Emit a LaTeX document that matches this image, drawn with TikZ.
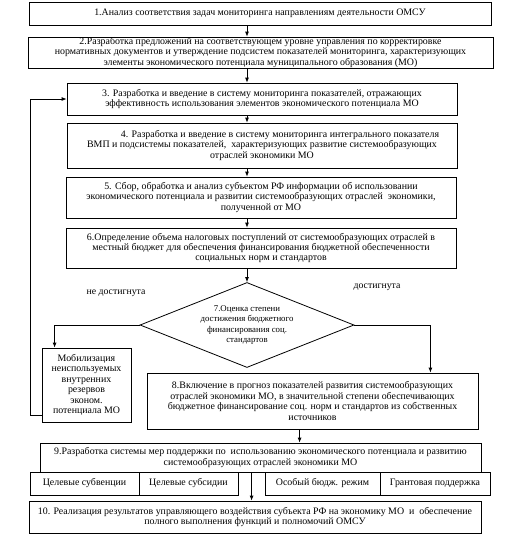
\documentclass[tikz,border=0pt]{standalone}
\usepackage{fontspec}
\setmainfont{Liberation Serif}
\usetikzlibrary{shapes.geometric,arrows.meta,calc}
\begin{document}
\begin{tikzpicture}[x=1pt,y=-1pt,
  box/.style={draw,line width=0.8pt,rectangle,inner sep=0pt,align=center,
    font=\fontsize{9.9}{10.4}\selectfont},
  arr/.style={line width=0.8pt,-{Latex[length=5pt,width=4pt]}},
  lbl/.style={font=\fontsize{9.8}{10.4}\selectfont}]
\useasboundingbox (0,0) rectangle (513,547);
\node[box,minimum width=462,minimum height=23] (b1) at (260,13.5)
 {1.Анализ соответствия задач мониторинга направлениям деятельности ОМСУ};
\node[box,minimum width=465,minimum height=31] (b2) at (260.5,52.5)
 {2.Разработка предложений на соответствующем уровне управления по корректировке\\
  нормативных документов и утверждение подсистем показателей мониторинга, характеризующих\\
  элементы экономического потенциала муниципального образования (МО)};
\node[box,minimum width=390,minimum height=32] (b3) at (262,99)
 {3. Разработка и введение в систему мониторинга показателей, отражающих\\
  эффективность использования элементов экономического потенциала МО};
\node[box,minimum width=390,minimum height=45] (b4) at (262,145.5)
 {\hspace*{36pt}4. Разработка и введение в систему мониторинга интегрального показателя\\
  ВМП и подсистемы показателей,\ \ характеризующих развитие системообразующих\\
  отраслей экономики МО};
\node[box,minimum width=390,minimum height=41] (b5) at (261,197.5)
 {5. Сбор, обработка и анализ субъектом РФ информации об использовании\\
  экономического потенциала и развитии системообразующих отраслей\ \ экономики,\\
  полученной от МО};
\node[box,minimum width=390,minimum height=40] (b6) at (261,248)
 {6.Определение объема налоговых поступлений от системообразующих отраслей в\\
  местный бюджет для обеспечения финансирования бюджетной обеспеченности\\
  социальных норм и стандартов};
\node[box,diamond,shape aspect=2.5,minimum width=214,minimum height=85,
  font=\fontsize{8.8}{10.4}\selectfont] (d7) at (247,325)
 {7.Оценка степени\\ достижения бюджетного\\ финансирования соц.\\ стандартов};
\node[lbl] (lno) at (116,293) {не достигнута};
\node[lbl] (lyes) at (377,287) {достигнута};
\node[box,minimum width=89,minimum height=74] (mob) at (86.5,385)
 {Мобилизация\\ неиспользуемых\\ внутренних\\ резервов\\ эконом.\\ потенциала МО};
\node[box,minimum width=331,minimum height=56] (b8) at (312.5,401)
 {8.Включение в прогноз показателей развития системообразующих\\
  отраслей экономики МО, в значительной степени обеспечивающих\\
  бюджетное финансирование соц. норм и стандартов из собственных\\
  источников};
\node[box,minimum width=441,minimum height=29] (b9) at (260.5,457.5)
 {9.Разработка системы мер поддержки по\ \ использованию экономического потенциала и развитию\\
  системообразующих отраслей экономики МО};
\node[box,minimum width=109,minimum height=23] (s1) at (84.5,483.5) {Целевые субвенции};
\node[box,minimum width=99,minimum height=23] (s2) at (188.5,483.5) {Целевые субсидии};
\node[box,minimum width=115,minimum height=23] (s3) at (322.5,483.5) {Особый бюдж. режим};
\node[box,minimum width=110,minimum height=23] (s4) at (435,483.5) {Грантовая поддержка};
\node[box,minimum width=452,minimum height=32] (b10) at (255,517)
 {10. Реализация результатов управляющего воздействия субъекта РФ на экономику МО\ \ и\ \ обеспечение\\
  полного выполнения функций и полномочий ОМСУ};
% connectors
\draw[arr] (b1.south -| d7) -- (b2.north -| d7);
\draw[arr] (b2.south -| d7) -- (b3.north -| d7);
\draw[arr] (b3.south -| d7) -- (b4.north -| d7);
\draw[arr] (b4.south -| d7) -- (b5.north -| d7);
\draw[arr] (b5.south -| d7) -- (b6.north -| d7);
\draw[arr] (b6.south -| d7) -- (d7.north);
\coordinate (mobin) at ($(mob.north west)+(13,0)$);
\draw[arr] (d7.west) -| (mobin);
\coordinate (b8in) at ($(b8.north east)+(-48,0)$);
\draw[arr] (d7.east) -| (b8in);
\coordinate (mobout) at ($(mob.south west)+(0,-7)$);
\coordinate (fb) at ($(mobout)+(-11,0)$);
\draw[arr] (mobout) -- (fb) |- (b3.west);
\coordinate (b8out) at ($(b8.south west)+(153,0)$);
\draw[arr] (b8out) -- (b8out |- b9.north);
\coordinate (b9out) at ($(b9.south west)+(212,0)$);
\draw[arr] (b9out) -- (b9out |- b10.north);
\end{tikzpicture}
\end{document}
